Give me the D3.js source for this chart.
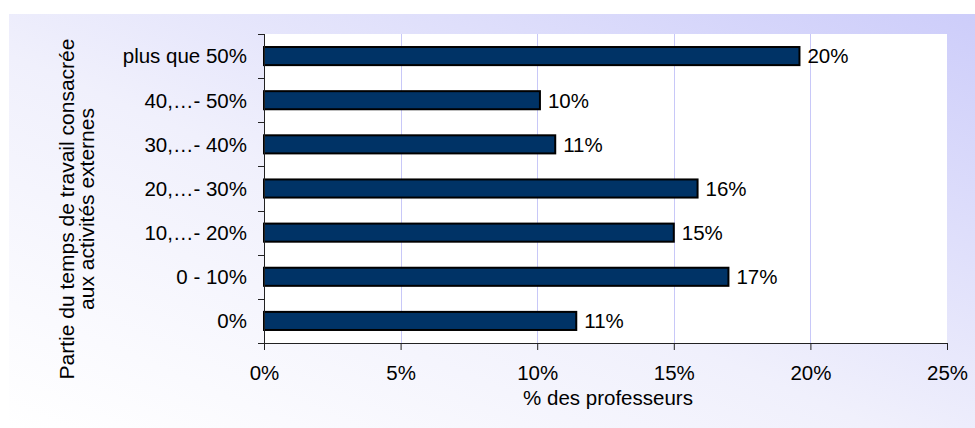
<!DOCTYPE html>
<html>
<head>
<meta charset="utf-8">
<script src="https://cdn.jsdelivr.net/npm/d3@7"></script>
<style>
  body { margin: 0; background: #fff; }
  text { font-family: "Liberation Sans", Arial, sans-serif; fill: #000; }
</style>
</head>
<body>
<div id="chart"></div>
<script>
// categories, top to bottom
const categories = ["plus que 50%", "40,…- 50%", "30,…- 40%", "20,…- 30%", "10,…- 20%", "0 - 10%", "0%"];
// share of professors (fraction)
const values = [0.196, 0.101, 0.1066, 0.1587, 0.150, 0.170, 0.1143];
const xTicks = [0, 0.05, 0.10, 0.15, 0.20, 0.25];

const width = 975, height = 428;
const plot = { left: 264, right: 947, top: 34, bottom: 343 };

const svg = d3.select("#chart").append("svg")
    .attr("width", width)
    .attr("height", height);

const defs = svg.append("defs");
const grad = defs.append("linearGradient")
    .attr("id", "bg")
    .attr("x1", "0%").attr("y1", "100%")
    .attr("x2", "100%").attr("y2", "0%");
grad.append("stop").attr("offset", "0%").attr("stop-color", "#ffffff");
grad.append("stop").attr("offset", "45%").attr("stop-color", "#f0f0fc");
grad.append("stop").attr("offset", "100%").attr("stop-color", "#cdcdfa");

svg.append("rect")
    .attr("x", 9).attr("y", 14)
    .attr("width", width - 9).attr("height", height - 14)
    .attr("fill", "url(#bg)");

svg.append("rect")
    .attr("x", plot.left).attr("y", plot.top)
    .attr("width", plot.right - plot.left).attr("height", plot.bottom - plot.top)
    .attr("fill", "#fff");

const x = d3.scaleLinear().domain([0, 0.25]).range([plot.left, plot.right]);
const y = d3.scaleBand().domain(categories)
    .range([plot.top, plot.bottom])
    .paddingInner(0.59).paddingOuter(0.295);

// gridlines
svg.append("g").selectAll("line")
    .data(xTicks.filter(d => d > 0 && d < 0.25))
    .enter().append("line")
    .attr("x1", d => Math.round(x(d)) + 0.5).attr("x2", d => Math.round(x(d)) + 0.5)
    .attr("y1", plot.top).attr("y2", plot.bottom)
    .attr("stroke", "#c8c8f8").attr("stroke-width", 1);

// bars
svg.append("g").selectAll("rect")
    .data(values)
    .enter().append("rect")
    .attr("x", x(0))
    .attr("y", (d, i) => y(categories[i]))
    .attr("width", d => x(d) - x(0))
    .attr("height", y.bandwidth())
    .attr("fill", "#003366")
    .attr("stroke", "#000")
    .attr("stroke-width", 2);

// value labels
svg.append("g").selectAll("text")
    .data(values)
    .enter().append("text")
    .attr("x", d => x(d) + 8)
    .attr("y", (d, i) => y(categories[i]) + y.bandwidth() / 2)
    .attr("dy", "0.36em")
    .style("font-size", "20.5px")
    .text(d => d3.format(".0%")(d));

// x axis
const xAxis = svg.append("g")
    .attr("transform", `translate(0,${plot.bottom})`)
    .call(d3.axisBottom(x).tickValues(xTicks).tickFormat(d3.format(".0%"))
        .tickSize(7).tickPadding(15));
xAxis.select(".domain").attr("stroke", "#222");
xAxis.selectAll(".tick line").attr("stroke", "#222");
xAxis.selectAll(".tick text").style("font-size", "20.5px").attr("fill", "#000")
    .style("font-family", "'Liberation Sans', Arial, sans-serif");

// y axis: ticks at band boundaries
const yAxis = svg.append("g")
    .attr("transform", `translate(${plot.left},0)`);
yAxis.append("line")
    .attr("x1", 0.5).attr("x2", 0.5)
    .attr("y1", plot.top).attr("y2", plot.bottom)
    .attr("stroke", "#222");
const bounds = categories.map(c => y(c) - y.step() * y.paddingInner() / 2)
    .concat([plot.bottom]);
bounds[0] = plot.top;
yAxis.selectAll(".btick").data(bounds).enter().append("line")
    .attr("x1", -6).attr("x2", 0.5)
    .attr("y1", d => Math.round(d) + 0.5).attr("y2", d => Math.round(d) + 0.5)
    .attr("stroke", "#222");
yAxis.selectAll(".lbl").data(categories).enter().append("text")
    .attr("x", -17)
    .attr("y", d => y(d) + y.bandwidth() / 2)
    .attr("dy", "0.36em")
    .attr("text-anchor", "end")
    .style("font-size", "20.5px")
    .text(d => d);

// axis titles
svg.append("text")
    .attr("x", 608).attr("y", 405)
    .attr("text-anchor", "middle")
    .style("font-size", "20.5px")
    .text("% des professeurs");

const yTitle = svg.append("text")
    .attr("transform", "translate(73.5,209) rotate(-90)")
    .attr("text-anchor", "middle")
    .style("font-size", "21px");
yTitle.append("tspan").attr("x", 0).attr("y", 0).text("Partie du temps de travail consacrée");
yTitle.append("tspan").attr("x", 0).attr("y", 20).text("aux activités externes");
</script>
</body>
</html>
